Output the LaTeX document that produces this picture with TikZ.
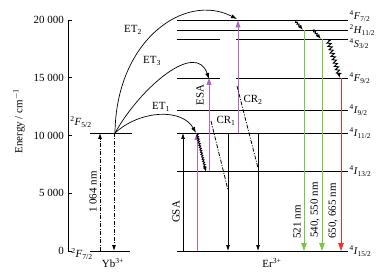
\documentclass[tikz,border=0pt]{standalone}
\usepackage{fontspec}
\setmainfont{Liberation Serif}
\usetikzlibrary{arrows.meta,positioning,decorations.pathmorphing}
\newcommand{\term}[3]{\textsuperscript{#1}\textit{#2}\textsubscript{#3}}
\definecolor{pumpviolet}{HTML}{B066C2}
\definecolor{emitgreen}{HTML}{78C841}
\definecolor{emitred}{HTML}{E8342B}

\begin{document}
\begin{tikzpicture}[x=1bp,y=-1bp,font=\fontsize{11}{13}\selectfont,
  level/.style={line width=0.8pt},
  blk/.style={line width=0.7pt,-{Latex[length=6pt,width=4pt]}},
  pump/.style={pumpviolet,line width=0.9pt,-{Triangle[length=7pt,width=5pt]}},
  emit/.style={line width=0.9pt,-{Triangle[length=8pt,width=5.5pt]}},
  dashdotline/.style={line width=0.8pt,dash pattern=on 4pt off 1.5pt on 1pt off 1.5pt},
  relax/.style={line width=0.9pt,decorate,-{Latex[length=5pt,width=3.5pt]},
    decoration={zigzag,amplitude=0.9pt,segment length=2.4pt,post length=3pt}}]
  \useasboundingbox (0,0) rectangle (385,274);

  % axis with ticks
  \draw[line width=0.8pt] (72,20) -- (68,20) -- (68,251) -- (72,251);
  \foreach \e/\yy in {20 000/20, 15 000/77.75, 10 000/135.5, 5 000/193.25, 0/251}{
    \draw[line width=0.8pt] (68,\yy) -- (72,\yy);
    \node[left,inner sep=1pt] at (65,\yy) {\e};
  }
  \node[rotate=90] (elabel) at (19,121) {Energy / cm\textsuperscript{$-1$}};

  % Yb levels
  \coordinate (yb5) at (90,133);
  \coordinate (yb7) at (90,251);
  \draw[level] (yb5) -- (132,133);
  \draw[level] (yb7) -- (130,251);
  \node (lab-yb5) at (81,122) {\term{2}{F}{5/2}};
  \node (lab-yb7) at (82,254) {\term{2}{F}{7/2}};
  \node (yb) at (113,263) {Yb\textsuperscript{3+}};
  \draw[blk,dashdotline] (100,0 |- yb7) -- (100,0 |- yb5);
  \draw[blk,dashdotline] (114,0 |- yb5) -- (114,0 |- yb7);
  \node[rotate=90] (nir) at (93,192) {1 064 nm};

  % Er levels: name/y/label shift
  \foreach \nm/\y/\lab/\sh in {f72/20.5/{\term{4}{F}{7/2}}/4.5, h112/30/{\term{2}{H}{11/2}}/0,
      s32/39/{\term{4}{S}{3/2}}/-4.5, f92/78/{\term{4}{F}{9/2}}/0, i92/110/{\term{4}{I}{9/2}}/0,
      i112/133/{\term{4}{I}{11/2}}/0, i132/171/{\term{4}{I}{13/2}}/0, i152/251/{\term{4}{I}{15/2}}/0}{
    \coordinate (\nm) at (177,\y);
    \node[right,inner sep=1.5pt,font=\fontsize{10.5}{12}\selectfont,yshift=\sh pt]
      (lab-\nm) at (348,\y) {\lab};
  }
  \foreach \nm in {f72,h112,i92,i112,i132,i152}
    \draw[level] (\nm) -- (lab-\nm.west |- \nm);
  \foreach \nm in {s32,f92}{
    \draw[level] (\nm) -- (220,0 |- \nm);
    \draw[level] (236,0 |- \nm) -- (lab-\nm.west |- \nm);
  }
  \node (er) at (272,263) {Er\textsuperscript{3+}};

  % energy transfer from Yb
  \coordinate (ybtop) at (115,133);
  \draw[blk] (ybtop) .. controls (140,110) and (182,108) .. (196,133);
  \draw[blk] (ybtop) .. controls (140,88) and (196,40) .. (209,79);
  \draw[blk] (ybtop) .. controls (116,40) and (185,-8) .. (237,19);
  \node (et1) at (161,107) {ET\textsubscript{1}};
  \node (et3) at (152,61) {ET\textsubscript{3}};
  \node (et2) at (133,30) {ET\textsubscript{2}};

  % absorption
  \draw[blk] (183,0 |- i152) -- (183,0 |- i112);
  \node[rotate=90] (gsa) at (176,212) {GSA};
  \draw[pump] (197,0 |- i152) -- (197,0 |- i112);
  \draw[relax] (197,134) -- (206,172);
  \draw[pump] (209,0 |- i132) -- (209,0 |- f92);
  \node[rotate=90] (esa) at (200,95) {ESA};
  \draw[pump] (238,0 |- i112) -- (238,0 |- f72);

  % cross relaxation
  \draw[dashdotline] (211,121) -- (228,190);
  \draw[dashdotline] (237,86) -- (258,168);
  \draw[blk] (228,0 |- i112) -- (228,0 |- i152);
  \draw[blk] (258,0 |- i112) -- (258,0 |- i152);
  \node (cr1) at (226,121) {CR\textsubscript{1}};
  \node (cr2) at (253,100) {CR\textsubscript{2}};

  % nonradiative relaxation
  \draw[relax] (295,0 |- f72) -- (303,0 |- h112);
  \draw[relax] (313,0 |- h112) -- (321,0 |- s32);
  \draw[relax,decoration={amplitude=2pt,segment length=3.5pt}] (328,40) -- (340,0 |- f92);

  % emission
  \draw[emit,emitgreen] (304,0 |- h112) -- (304,0 |- i152);
  \draw[emit,emitgreen] (322,0 |- s32) -- (322,0 |- i152);
  \draw[emit,emitred] (341,0 |- f92) -- (341,0 |- i152);
  \node[rotate=90] (g1) at (297,222) {521 nm};
  \node[rotate=90] (g2) at (315,210) {540, 550 nm};
  \node[rotate=90] (r1) at (333,211) {650, 665 nm};
\end{tikzpicture}
\end{document}
